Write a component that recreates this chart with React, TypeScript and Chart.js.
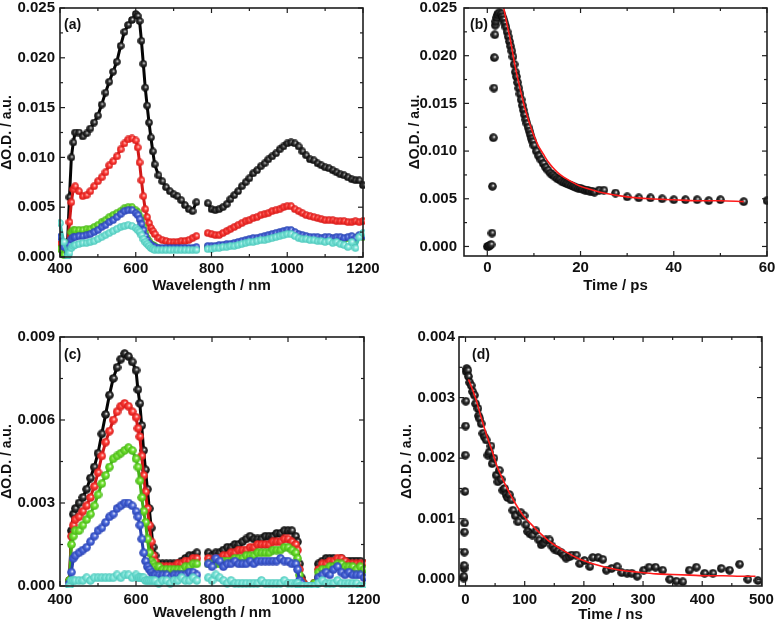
import React, { useEffect, useRef } from 'react';
import { Chart, registerables } from 'chart.js';
Chart.register(...registerables);

const FONT = '"Liberation Sans", Arial, Helvetica, sans-serif';

// ---------- Panel (a): transient spectra, ps ----------
const wlA = [400, 410, 420, 425, 430, 435, 440,
  450, 460, 470, 480, 490, 500, 510, 520, 530, 540, 550, 560, 570, 580, 590, 600,
  605, 610, 615, 620, 625, 630, 635, 640, 645, 650,
  660, 670, 680, 690, 700, 710, 720, 730, 740, 750, 760,
  775,
  790, 800, 810, 820, 830, 840, 850, 860, 870, 880, 890, 900, 910, 920, 930, 940, 950, 960, 970, 980, 990,
  1000, 1010, 1020, 1030, 1040, 1050, 1060, 1070, 1080, 1090, 1100, 1110, 1120, 1130, 1140, 1150, 1160, 1170, 1180, 1190, 1200];

const blackA = [null, null, 0.0015, 0.0060, 0.0100, 0.0115, 0.0125,
  0.0125, 0.0121, 0.0124, 0.0129, 0.0135, 0.0142, 0.0153, 0.0165, 0.0176, 0.0186, 0.0196, 0.0212, 0.0226, 0.0233, 0.0238, 0.0244,
  0.0242, 0.0237, 0.0217, 0.0194, 0.0170, 0.0152, 0.0135, 0.0120, 0.0106, 0.0093,
  0.0082, 0.0076, 0.0070, 0.0066, 0.0063, 0.0061, 0.0057, 0.0052, 0.0048, 0.0046, 0.0055,
  null,
  0.0054, 0.0048, 0.0047, 0.0048, 0.0050, 0.0053, 0.0058, 0.0062, 0.0066, 0.0071, 0.0075, 0.0079, 0.0084, 0.0087, 0.0091, 0.0094, 0.0098, 0.0101, 0.0104, 0.0108, 0.0111,
  0.0114, 0.0115, 0.0114, 0.0111, 0.0106, 0.0102, 0.0098, 0.0097, 0.0094, 0.0092, 0.0090, 0.0089, 0.0087, 0.0085, 0.0083, 0.0082, 0.0080, 0.0078, 0.0077, 0.0077, 0.0072];

const redA = [0.0013, 0.0005, 0.0008, 0.0035, 0.0055, 0.0068, 0.0071,
  0.0066, 0.0061, 0.0062, 0.0066, 0.0071, 0.0076, 0.0080, 0.0085, 0.0092, 0.0096, 0.0101, 0.0108, 0.0114, 0.0118, 0.0119, 0.0117,
  0.0110, 0.0095, 0.0077, 0.0061, 0.0048, 0.0040, 0.0034, 0.0029, 0.0026, 0.0023,
  0.0019, 0.0017, 0.0016, 0.0015, 0.0015, 0.0015, 0.0016, 0.0016, 0.0017, 0.0019, 0.0021,
  null,
  0.0024, 0.0023, 0.0022, 0.0022, 0.0024, 0.0026, 0.0028, 0.0030, 0.0032, 0.0034, 0.0036, 0.0037, 0.0039, 0.0040, 0.0042, 0.0043, 0.0044, 0.0046, 0.0047, 0.0048, 0.0050,
  0.0051, 0.0051, 0.0048, 0.0046, 0.0044, 0.0042, 0.0041, 0.0040, 0.0039, 0.0038, 0.0037, 0.0037, 0.0037, 0.0036, 0.0036, 0.0036, 0.0035, 0.0035, 0.0036, 0.0035, 0.0036];

const greenA = [0.0008, 0.0002, 0.0003, 0.0015, 0.0025, 0.0027, 0.0027,
  0.0027, 0.0027, 0.0028, 0.0028, 0.0030, 0.0032, 0.0035, 0.0037, 0.0040, 0.0042, 0.0044, 0.0046, 0.0049, 0.0050, 0.0050, 0.0047,
  0.0045, 0.0041, 0.0036, 0.0030, 0.0024, 0.0019, 0.0016, 0.0013, 0.0012, 0.0011,
  0.0009, 0.0008, 0.0008, 0.0008, 0.0008, 0.0008, 0.0008, 0.0008, 0.0008, 0.0008, 0.0008,
  null,
  0.0010, 0.0010, 0.0010, 0.0011, 0.0011, 0.0012, 0.0012, 0.0013, 0.0014, 0.0015, 0.0016, 0.0017, 0.0018, 0.0018, 0.0019, 0.0020, 0.0021, 0.0022, 0.0023, 0.0024, 0.0025,
  0.0026, 0.0026, 0.0024, 0.0022, 0.0021, 0.0020, 0.0019, 0.0019, 0.0019, 0.0018, 0.0019, 0.0019, 0.0018, 0.0019, 0.0019, 0.0018, 0.0019, 0.0020, 0.0018, 0.0021, 0.0020];

const blueA = [0.0020, 0.0010, 0.0002, 0.0012, 0.0018, 0.0020, 0.0020,
  0.0021, 0.0021, 0.0022, 0.0023, 0.0025, 0.0027, 0.0030, 0.0032, 0.0035, 0.0037, 0.0040, 0.0043, 0.0046, 0.0047, 0.0047, 0.0044,
  0.0042, 0.0038, 0.0033, 0.0027, 0.0021, 0.0017, 0.0014, 0.0012, 0.0011, 0.0010,
  0.0009, 0.0009, 0.0009, 0.0009, 0.0009, 0.0009, 0.0009, 0.0009, 0.0009, 0.0009, 0.0010,
  null,
  0.0011, 0.0011, 0.0011, 0.0012, 0.0012, 0.0013, 0.0013, 0.0014, 0.0015, 0.0016, 0.0017, 0.0018, 0.0019, 0.0019, 0.0020, 0.0021, 0.0022, 0.0023, 0.0024, 0.0025, 0.0026,
  0.0027, 0.0027, 0.0025, 0.0023, 0.0022, 0.0021, 0.0020, 0.0020, 0.0020, 0.0019, 0.0020, 0.0020, 0.0019, 0.0020, 0.0020, 0.0019, 0.0020, 0.0021, 0.0019, 0.0022, 0.0021];

const cyanA = [0.0034, 0.0015, 0.0001, 0.0004, 0.0009, 0.0011, 0.0012,
  0.0013, 0.0014, 0.0014, 0.0015, 0.0016, 0.0018, 0.0020, 0.0022, 0.0024, 0.0026, 0.0028, 0.0030, 0.0031, 0.0032, 0.0031, 0.0029,
  0.0027, 0.0025, 0.0022, 0.0018, 0.0015, 0.0013, 0.0011, 0.0009, 0.0008, 0.0007,
  0.0007, 0.0007, 0.0007, 0.0007, 0.0007, 0.0007, 0.0007, 0.0007, 0.0007, 0.0007, 0.0007,
  null,
  0.0008, 0.0008, 0.0009, 0.0009, 0.0010, 0.0010, 0.0011, 0.0011, 0.0012, 0.0013, 0.0014, 0.0015, 0.0015, 0.0016, 0.0017, 0.0017, 0.0018, 0.0019, 0.0020, 0.0021, 0.0022,
  0.0023, 0.0023, 0.0021, 0.0019, 0.0018, 0.0018, 0.0017, 0.0017, 0.0016, 0.0016, 0.0015, 0.0016, 0.0014, 0.0015, 0.0013, 0.0012, 0.0010, 0.0015, 0.0009, 0.0020, 0.0024];

// ---------- Panel (b): kinetic trace, ps ----------
const timeB = [0, 0.3, 0.5, 0.8, 1.0, 1.1, 1.3, 1.4, 1.5, 1.6, 1.7, 1.8, 2.0, 2.2, 2.5,
  3.0, 3.25, 3.5, 3.75, 4.0, 4.25, 4.5, 4.75, 5.0, 5.25, 5.5, 5.75, 6.0, 6.25, 6.5, 6.75, 7.0, 7.25, 7.5, 7.75,
  8.0, 8.25, 8.5, 8.75, 9.0, 9.25, 9.5, 9.75, 10.0,
  10.5, 11.0, 11.5, 12.0, 12.5, 13.0, 13.5, 14.0, 14.5, 15.0, 15.5, 16.0, 16.5, 17.0, 17.5, 18.0, 18.5, 19.0, 19.5,
  20.0, 20.5, 21.0, 21.5, 22.0, 22.5, 23.0,
  24, 25, 27.5, 30, 32.5, 35, 37.5, 40, 42.5, 45, 47.5, 50, 55, 60];
const odB = [0.0000, 0.0000, 0.0001, 0.0002, 0.0014, 0.0063, 0.0114, 0.0166, 0.0198, 0.0222, 0.0232, 0.0236, 0.0240, 0.0243, 0.0245,
  0.0244, 0.0241, 0.0238, 0.0234, 0.0230, 0.0225, 0.0220, 0.0215, 0.0210, 0.0205, 0.0199, 0.0191, 0.0183, 0.0178, 0.0172, 0.0166, 0.0160, 0.0154, 0.0148, 0.0143,
  0.0138, 0.0133, 0.0129, 0.0125, 0.0121, 0.0117, 0.0113, 0.0110, 0.0106,
  0.0100, 0.0095, 0.0091, 0.0087, 0.0083, 0.0080, 0.0077, 0.0075, 0.0073, 0.0071, 0.0070, 0.0068, 0.0067, 0.0066, 0.0065, 0.0064, 0.0063, 0.0062, 0.0061,
  0.0061, 0.0060, 0.0059, 0.0059, 0.0058, 0.0058, 0.0057,
  0.0059, 0.0059, 0.0056, 0.0052, 0.0051, 0.0051, 0.0050, 0.0049, 0.0049, 0.0049, 0.0048, 0.0049, 0.0047, 0.0048];
const fitTimeB = [3.5, 4, 5, 6, 7, 8, 9, 10, 11, 12, 13, 14, 15, 16, 18, 20, 22, 25, 30, 35, 40, 45, 50, 55];
const fitB = [0.0251, 0.0238, 0.0215, 0.0188, 0.0166, 0.0146, 0.0130, 0.0116, 0.0105, 0.0097, 0.0089, 0.0083, 0.0078, 0.0074,
  0.0068, 0.0063, 0.0060, 0.0056, 0.0052, 0.0050, 0.0049, 0.0048, 0.0048, 0.0047];

// ---------- Panel (c): transient spectra, ns ----------
const wlC = [425, 430, 435, 440,
  450, 460, 470, 480, 490, 500, 510, 520, 530, 540, 550, 560, 570, 580, 590, 600,
  605, 610, 615, 620, 625, 630, 635, 640, 645, 650,
  660, 670, 680, 690, 700, 710, 720, 730, 740, 750, 760,
  775,
  790, 800, 810, 820, 830, 840, 850, 860, 870, 880, 890, 900, 910, 920, 930, 940, 950, 960, 970, 980, 990, 1000, 1010, 1020,
  1025, 1030, 1035, 1040,
  1050, 1060, 1070, 1080, 1090, 1100, 1110, 1120, 1130, 1140, 1150, 1160, 1170, 1180, 1190, 1200];

const blackC = [0.0002, 0.0020, 0.0026, 0.0028,
  0.0030, 0.0032, 0.0035, 0.0039, 0.0043, 0.0048, 0.0055, 0.0062, 0.0069, 0.0075, 0.0079, 0.0082, 0.0084, 0.0083, 0.0081, 0.0078,
  0.0071, 0.0066, 0.0058, 0.0049, 0.0042, 0.0035, 0.0028, 0.0021, 0.0014, 0.0011,
  0.0008, 0.0008, 0.0008, 0.0008, 0.0008, 0.0008, 0.0009, 0.0010, 0.0011, 0.0011, 0.0012,
  null,
  0.0012, 0.0011, 0.0012, 0.0012, 0.0013, 0.0014, 0.0014, 0.0015, 0.0015, 0.0016, 0.0017, 0.0018, 0.0017, 0.0017, 0.0017, 0.0018, 0.0018, 0.0018, 0.0019, 0.0019, 0.0020, 0.0020, 0.0020, 0.0018,
  0.0016, 0.0008, 0.0003, 0.0001,
  0.0000, 0.0000, 0.0001, 0.0008, 0.0009, 0.0010, 0.0010, 0.0010, 0.0009, 0.0010, 0.0009, 0.0009, 0.0009, 0.0009, 0.0009, 0.0008];

const redC = [0.0002, 0.0018, 0.0022, 0.0024,
  0.0025, 0.0027, 0.0029, 0.0032, 0.0036, 0.0041, 0.0047, 0.0052, 0.0056, 0.0060, 0.0063, 0.0065, 0.0066, 0.0065, 0.0063, 0.0061,
  0.0057, 0.0054, 0.0047, 0.0040, 0.0034, 0.0028, 0.0022, 0.0016, 0.0011, 0.0009,
  0.0007, 0.0007, 0.0007, 0.0007, 0.0007, 0.0008, 0.0008, 0.0009, 0.0009, 0.0010, 0.0010,
  null,
  0.0010, 0.0009, 0.0010, 0.0010, 0.0011, 0.0011, 0.0012, 0.0012, 0.0013, 0.0013, 0.0013, 0.0014, 0.0014, 0.0015, 0.0015, 0.0015, 0.0015, 0.0016, 0.0016, 0.0016, 0.0017, 0.0017, 0.0016, 0.0015,
  0.0013, 0.0006, 0.0002, 0.0001,
  0.0000, 0.0000, 0.0001, 0.0006, 0.0008, 0.0008, 0.0009, 0.0009, 0.0010, 0.0010, 0.0009, 0.0008, 0.0008, 0.0008, 0.0008, 0.0008];

const greenC = [0.0002, 0.0015, 0.0018, 0.0020,
  0.0020, 0.0022, 0.0024, 0.0026, 0.0029, 0.0033, 0.0037, 0.0040, 0.0043, 0.0046, 0.0047, 0.0048, 0.0049, 0.0050, 0.0049, 0.0046,
  0.0043, 0.0038, 0.0032, 0.0027, 0.0023, 0.0017, 0.0012, 0.0009, 0.0008, 0.0007,
  0.0007, 0.0006, 0.0006, 0.0006, 0.0006, 0.0006, 0.0006, 0.0007, 0.0007, 0.0008, 0.0008,
  null,
  0.0008, 0.0008, 0.0008, 0.0008, 0.0009, 0.0009, 0.0009, 0.0010, 0.0010, 0.0010, 0.0011, 0.0011, 0.0011, 0.0012, 0.0012, 0.0012, 0.0012, 0.0013, 0.0013, 0.0013, 0.0014, 0.0014, 0.0013, 0.0012,
  0.0010, 0.0004, 0.0001, 0.0000,
  0.0000, 0.0000, 0.0001, 0.0005, 0.0006, 0.0006, 0.0007, 0.0007, 0.0008, 0.0008, 0.0007, 0.0007, 0.0007, 0.0006, 0.0007, 0.0006];

const blueC = [0.0001, 0.0005, 0.0010, 0.0011,
  0.0012, 0.0013, 0.0014, 0.0016, 0.0018, 0.0020, 0.0021, 0.0023, 0.0025, 0.0026, 0.0028, 0.0029, 0.0030, 0.0030, 0.0029, 0.0027,
  0.0025, 0.0022, 0.0017, 0.0012, 0.0009, 0.0007, 0.0006, 0.0005, 0.0004, 0.0004,
  0.0004, 0.0004, 0.0004, 0.0003, 0.0004, 0.0004, 0.0004, 0.0004, 0.0005, 0.0005, 0.0004,
  null,
  0.0008, 0.0007, 0.0010, 0.0009, 0.0007, 0.0008, 0.0008, 0.0009, 0.0008, 0.0008, 0.0008, 0.0009, 0.0008, 0.0009, 0.0009, 0.0009, 0.0009, 0.0009, 0.0009, 0.0010, 0.0009, 0.0009, 0.0008, 0.0008,
  0.0006, 0.0002, 0.0001, 0.0000,
  0.0000, 0.0000, 0.0000, 0.0003, 0.0004, 0.0005, 0.0004, 0.0006, 0.0007, 0.0005, 0.0004, 0.0005, 0.0004, 0.0004, 0.0004, 0.0003];

const cyanC = [0.0000, 0.0002, 0.0002, 0.0002,
  0.0002, 0.0002, 0.0003, 0.0002, 0.0003, 0.0003, 0.0003, 0.0003, 0.0003, 0.0003, 0.0004, 0.0003, 0.0004, 0.0004, 0.0003, 0.0004,
  0.0003, 0.0003, 0.0003, 0.0003, 0.0002, 0.0002, 0.0002, 0.0002, 0.0002, 0.0002,
  0.0001, 0.0002, 0.0002, 0.0001, 0.0002, 0.0002, 0.0003, 0.0002, 0.0002, 0.0003, 0.0002,
  null,
  0.0003, 0.0002, 0.0004, 0.0003, 0.0002, 0.0001, 0.0002, 0.0001, 0.0001, 0.0001, 0.0001, 0.0001, 0.0001, 0.0001, 0.0002, 0.0001, 0.0001, 0.0001, 0.0001, 0.0001, 0.0002, 0.0001, 0.0001, 0.0001,
  0.0001, 0.0000, 0.0000, 0.0000,
  0.0000, 0.0000, 0.0000, 0.0001, 0.0002, 0.0001, 0.0001, 0.0001, 0.0002, 0.0001, 0.0001, 0.0001, 0.0001, 0.0001, 0.0000, 0.0000];

// ---------- Panel (d): kinetic trace, ns ----------
const timeD = [-3, -3, -2.5, -2.5, -2, -2, -1.5, -1, -0.5, 0, 0.5, 1, 2,
  3.9, 5, 7, 9.6, 12, 15, 17, 20.9, 22, 24, 26.5, 29.3, 32, 35, 37.7, 40, 43, 45, 48, 51.8, 54.6, 57, 60, 63, 66, 68.5, 71, 74, 77, 80,
  84, 88.5, 93.6, 99, 102, 105, 109, 113, 119, 124, 128, 132, 136, 142, 146, 150, 156, 162, 166, 170, 175, 179, 187, 193,
  201, 210, 215, 224, 232, 238, 247, 256, 264, 273, 281, 290, 301, 310, 321, 333, 345, 356, 367, 378, 390,
  404, 418, 432, 446, 463, 477, 494];
const odD = [0.00002, 0.00005, 0.00018, 0.00023, 0.00045, 0.00078, 0.00093, 0.00145, 0.00205, 0.00253, 0.00294, 0.00343, 0.00348,
  0.00345, 0.00335, 0.00325, 0.00320, 0.00310, 0.00304, 0.00290, 0.00282, 0.00270, 0.00265, 0.00257, 0.00241, 0.00235, 0.00230, 0.00205, 0.00210, 0.00220, 0.00191, 0.00200, 0.00172, 0.00161, 0.00180, 0.00165, 0.00147, 0.00150, 0.00140, 0.00135, 0.00140, 0.00131, 0.00114,
  0.00105, 0.00095, 0.00110, 0.00105, 0.00090, 0.00079, 0.00075, 0.00073, 0.00080, 0.00065, 0.00057, 0.00060, 0.00065, 0.00065, 0.00055, 0.00050, 0.00047, 0.00044, 0.00040, 0.00035, 0.00037, 0.00040, 0.00040, 0.00026,
  0.00031, 0.00021, 0.00036, 0.00036, 0.00033, 0.00015, 0.00018, 0.00021, 0.00011, 0.00010, 0.00010, 0.00005, 0.00015, 0.00020, 0.00020, 0.00015, 0.00000, -0.00003, -0.00004, 0.00015, 0.00020,
  0.00010, 0.00010, 0.00018, 0.00015, 0.00025, 0.00000, -0.00002];
const fitTimeD = [5, 10, 18, 25, 35, 45, 52, 63, 74, 85, 97, 110, 125, 140, 153, 170, 187, 205, 221, 240, 262, 290, 322, 350, 379, 410, 435, 465, 490];
const fitD = [0.00330, 0.00318, 0.00296, 0.00272, 0.00240, 0.00212, 0.00190, 0.00165, 0.00143, 0.00124, 0.00106, 0.00092, 0.00077, 0.00064, 0.00055,
  0.00045, 0.00036, 0.00029, 0.00024, 0.00019, 0.00015, 0.00012, 0.00009, 0.00008, 0.00007, 0.00006, 0.00006, 0.00005, 0.00005];

// ---------- axis ticks ----------
const xTicksA = [400, 600, 800, 1000, 1200];
const yTicksA = [0, 0.005, 0.01, 0.015, 0.02, 0.025];
const xTicksB = [0, 20, 40, 60];
const yTicksB = [0, 0.005, 0.01, 0.015, 0.02, 0.025];
const xTicksC = [400, 600, 800, 1000, 1200];
const yTicksC = [0, 0.003, 0.006, 0.009];
const xTicksD = [0, 100, 200, 300, 400, 500];
const yTicksD = [0, 0.001, 0.002, 0.003, 0.004];

const COLORS = {
  black: ['#333333', '#050505'],
  red: ['#ff3b35', '#d01818'],
  green: ['#70e22c', '#44b018'],
  blue: ['#4a68dc', '#2840b0'],
  cyan: ['#80e8dc', '#48c4b8'],
};

function makeBall(color: string, dark: string, size: number) {
  const c = document.createElement('canvas');
  c.width = size;
  c.height = size;
  const g = c.getContext('2d')!;
  const r = size / 2;
  const grad = g.createRadialGradient(r + r * 0.2, r - r * 0.2, 0, r, r, r);
  grad.addColorStop(0, '#ffffff');
  grad.addColorStop(0.4, color);
  grad.addColorStop(1, dark);
  g.fillStyle = grad;
  g.beginPath();
  g.arc(r, r, r - 0.2, 0, Math.PI * 2);
  g.fill();
  return c;
}

const framePlugin = {
  id: 'frame',
  afterDatasetsDraw(chart: any, _a: any, opts: any) {
    const { ctx, chartArea } = chart;
    const { left, right, top, bottom } = chartArea;
    const xs = chart.scales.x;
    const ys = chart.scales.y;
    ctx.save();
    ctx.strokeStyle = '#1e1e1e';
    ctx.lineWidth = 1.2;
    const seg = (x1: number, y1: number, x2: number, y2: number) => {
      ctx.beginPath();
      ctx.moveTo(x1, y1);
      ctx.lineTo(x2, y2);
      ctx.stroke();
    };
    const majX = xs.ticks.map((t: any) => t.value);
    const majY = ys.ticks.map((t: any) => t.value);
    const k0 = Math.ceil(xs.min / opts.xMinor - 1e-6);
    const k1 = Math.floor(xs.max / opts.xMinor + 1e-6);
    for (let k = k0; k <= k1; k++) {
      const v = k * opts.xMinor;
      const px = xs.getPixelForValue(v);
      const major = majX.some((m: number) => Math.abs(m - v) < opts.xMinor * 1e-3);
      const len = major ? 5 : 3;
      seg(px, bottom, px, bottom - len);
      seg(px, top, px, top + len);
    }
    const j0 = Math.ceil(ys.min / opts.yMinor - 1e-6);
    const j1 = Math.floor(ys.max / opts.yMinor + 1e-6);
    for (let j = j0; j <= j1; j++) {
      const v = j * opts.yMinor;
      const py = ys.getPixelForValue(v);
      const major = majY.some((m: number) => Math.abs(m - v) < opts.yMinor * 1e-3);
      const len = major ? 5 : 3;
      seg(left, py, left + len, py);
      seg(right, py, right - len, py);
    }
    ctx.lineWidth = 1.6;
    ctx.strokeRect(left, top, right - left, bottom - top);
    ctx.fillStyle = '#111';
    ctx.font = `bold 14px ${FONT}`;
    ctx.textBaseline = 'middle';
    ctx.textAlign = 'left';
    ctx.fillText(opts.label, left + opts.labelDx, top + opts.labelDy);
    ctx.restore();
  },
};

type Spec = {
  datasets: any[];
  xMin: number; xMax: number; xTicks: number[]; xMinor: number; xTitle: string;
  yMin: number; yMax: number; yTicks: number[]; yMinor: number;
  yWidth: number; xHeight: number; padTop: number; padRight: number;
  xTitlePad: number; yTitlePad: number; xTickPad: number; yTickPad: number;
  label: string; labelDx: number; labelDy: number;
};

function buildConfig(s: Spec): any {
  return {
    type: 'scatter',
    data: { datasets: s.datasets },
    options: {
      animation: false,
      responsive: false,
      devicePixelRatio: 1,
      events: [],
      layout: { padding: { left: 0, top: s.padTop, right: s.padRight, bottom: 0 } },
      plugins: {
        legend: { display: false },
        tooltip: { enabled: false },
        frame: { xMinor: s.xMinor, yMinor: s.yMinor, label: s.label, labelDx: s.labelDx, labelDy: s.labelDy },
      },
      scales: {
        x: {
          type: 'linear',
          min: s.xMin,
          max: s.xMax,
          afterBuildTicks: (sc: any) => { sc.ticks = s.xTicks.map((v) => ({ value: v })); },
          afterFit: (sc: any) => {
            sc.height = s.xHeight;
            sc.paddingLeft = 0; sc.paddingRight = 0; sc.paddingTop = 0; sc.paddingBottom = 0;
          },
          grid: { display: false, drawTicks: false },
          border: { display: false },
          ticks: {
            color: '#111', autoSkip: false, maxRotation: 0, padding: s.xTickPad,
            font: { family: FONT, size: 15, weight: 'bold' },
            callback: (v: any) => String(v),
          },
          title: {
            display: true, text: s.xTitle, color: '#111',
            font: { family: FONT, size: 15, weight: 'bold', lineHeight: 1 },
            padding: { top: 0, bottom: s.xTitlePad },
          },
        },
        y: {
          type: 'linear',
          min: s.yMin,
          max: s.yMax,
          afterBuildTicks: (sc: any) => { sc.ticks = s.yTicks.map((v) => ({ value: v })); },
          afterFit: (sc: any) => {
            sc.width = s.yWidth;
            sc.paddingLeft = 0; sc.paddingRight = 0; sc.paddingTop = 0; sc.paddingBottom = 0;
          },
          grid: { display: false, drawTicks: false },
          border: { display: false },
          ticks: {
            color: '#111', autoSkip: false, padding: s.yTickPad,
            font: { family: FONT, size: 15, weight: 'bold' },
            callback: (v: any) => Number(v).toFixed(3),
          },
          title: {
            display: true, text: 'ΔO.D. / a.u.', color: '#111',
            font: { family: FONT, size: 14, weight: 'bold', lineHeight: 1 },
            padding: { top: s.yTitlePad, bottom: 0 },
          },
        },
      },
    },
  };
}

function spectrum(xs: number[], ys: (number | null)[], col: string[], size: number, order: number) {
  return {
    data: xs.map((x, i) => ({ x, y: ys[i] })),
    showLine: true,
    spanGaps: false,
    borderColor: col[1],
    borderWidth: 3,
    pointStyle: makeBall(col[0], col[1], size),
    pointRadius: size / 2,
    clip: 2,
    order,
  };
}

function balls(xs: number[], ys: number[], size: number) {
  return {
    data: xs.map((x, i) => ({ x, y: ys[i] })),
    showLine: false,
    pointStyle: makeBall(COLORS.black[0], COLORS.black[1], size),
    pointRadius: size / 2,
    clip: 1,
    order: 2,
  };
}

function fit(xs: number[], ys: number[]) {
  return {
    data: xs.map((x, i) => ({ x, y: ys[i] })),
    showLine: true,
    borderColor: '#ff1a1a',
    borderWidth: 1.6,
    pointRadius: 0,
    cubicInterpolationMode: 'monotone',
    clip: 0,
    order: 1,
  };
}

function specA(): Spec {
  return {
    datasets: [
      spectrum(wlA, blackA, COLORS.black, 8, 5),
      spectrum(wlA, redA, COLORS.red, 8, 4),
      spectrum(wlA, greenA, COLORS.green, 8, 3),
      spectrum(wlA, blueA, COLORS.blue, 8, 2),
      spectrum(wlA, cyanA, COLORS.cyan, 8, 1),
    ],
    xMin: 400, xMax: 1200, xTicks: xTicksA, xMinor: 100, xTitle: 'Wavelength / nm',
    yMin: 0, yMax: 0.025, yTicks: yTicksA, yMinor: 0.0025,
    yWidth: 60, xHeight: 56, padTop: 8, padRight: 26,
    xTitlePad: 20, yTitlePad: 0, xTickPad: 3, yTickPad: 5,
    label: '(a)', labelDx: 4, labelDy: 17,
  };
}
function specB(): Spec {
  return {
    datasets: [fit(fitTimeB, fitB), balls(timeB, odB, 9)],
    xMin: -5, xMax: 60, xTicks: xTicksB, xMinor: 10, xTitle: 'Time / ps',
    yMin: -0.001, yMax: 0.025, yTicks: yTicksB, yMinor: 0.0025,
    yWidth: 75, xHeight: 57, padTop: 8, padRight: 11,
    xTitlePad: 20, yTitlePad: 19, xTickPad: 3, yTickPad: 7,
    label: '(b)', labelDx: 6, labelDy: 17,
  };
}
function specC(): Spec {
  return {
    datasets: [
      spectrum(wlC, blackC, COLORS.black, 9, 5),
      spectrum(wlC, redC, COLORS.red, 9, 4),
      spectrum(wlC, greenC, COLORS.green, 9, 3),
      spectrum(wlC, blueC, COLORS.blue, 9, 2),
      spectrum(wlC, cyanC, COLORS.cyan, 9, 1),
    ],
    xMin: 400, xMax: 1200, xTicks: xTicksC, xMinor: 100, xTitle: 'Wavelength / nm',
    yMin: 0, yMax: 0.009, yTicks: yTicksC, yMinor: 0.0015,
    yWidth: 60, xHeight: 40, padTop: 24, padRight: 25,
    xTitlePad: 6, yTitlePad: 0, xTickPad: 5, yTickPad: 5,
    label: '(c)', labelDx: 4, labelDy: 18,
  };
}
function specD(): Spec {
  return {
    datasets: [fit(fitTimeD, fitD), balls(timeD, odD, 9)],
    xMin: -11, xMax: 501, xTicks: xTicksD, xMinor: 50, xTitle: 'Time / ns',
    yMin: -0.00011, yMax: 0.004, yTicks: yTicksD, yMinor: 0.0005,
    yWidth: 70, xHeight: 40, padTop: 24, padRight: 16,
    xTitlePad: 4, yTitlePad: 11, xTickPad: 5, yTickPad: 4,
    label: '(d)', labelDx: 13, labelDy: 18,
  };
}

function Panel({ left, top, make }: { left: number; top: number; make: () => Spec }) {
  const ref = useRef<HTMLCanvasElement>(null);
  useEffect(() => {
    const chart = new Chart(ref.current!, { ...buildConfig(make()), plugins: [framePlugin] });
    return () => chart.destroy();
  }, []);
  return (
    <canvas
      ref={ref}
      width={389}
      height={313}
      style={{ position: 'absolute', left, top, width: 389, height: 313 }}
    />
  );
}

export default function App() {
  return (
    <div style={{ position: 'fixed', left: 0, top: 0, width: 778, height: 626, background: '#fff', overflow: 'hidden' }}>
      <Panel left={0} top={0} make={specA} />
      <Panel left={389} top={0} make={specB} />
      <Panel left={0} top={313} make={specC} />
      <Panel left={389} top={313} make={specD} />
    </div>
  );
}
